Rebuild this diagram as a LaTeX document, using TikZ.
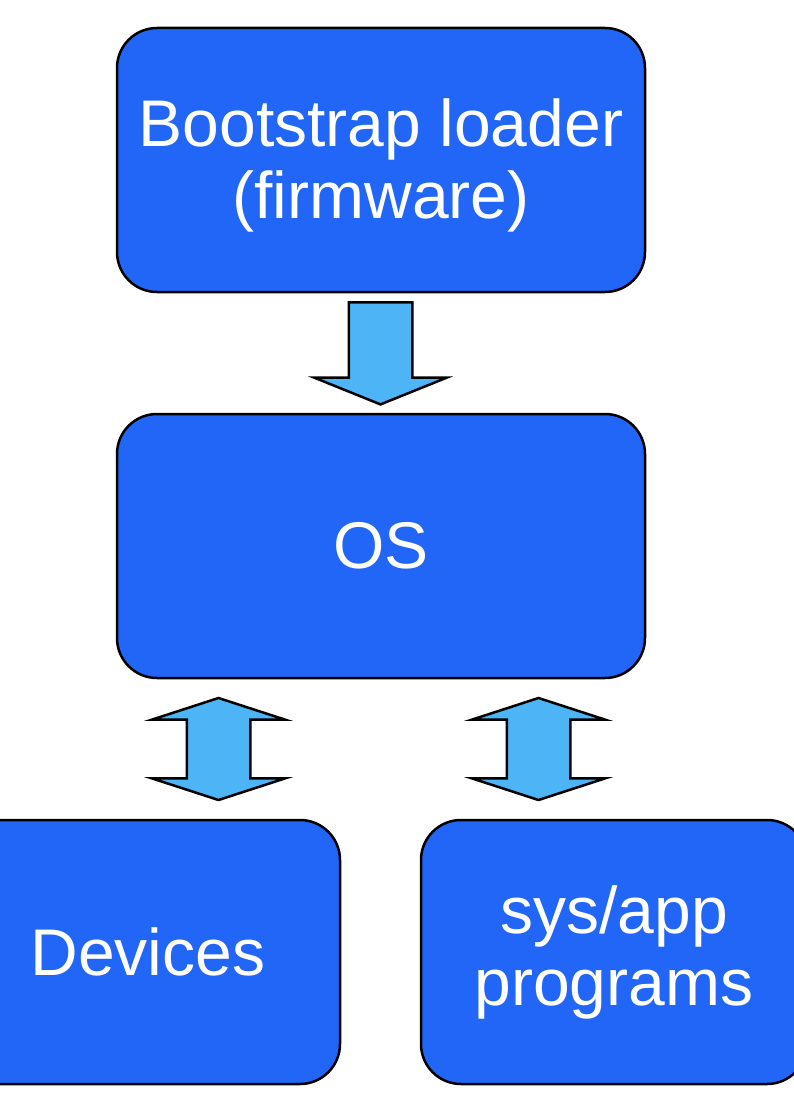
\documentclass[tikz,border=0pt]{standalone}
\usepackage{fontspec}
\setmainfont{Liberation Sans}
\usetikzlibrary{shapes.arrows}
\definecolor{boxblue}{RGB}{33,102,246}
\definecolor{arrowblue}{RGB}{77,181,245}

\begin{document}
\begin{tikzpicture}[x=1pt,y=-1pt,
  blockbox/.style={draw,line width=2.5pt,fill=boxblue,rounded corners=40pt,
    minimum height=264pt,text=white,align=center,
    font=\fontsize{66}{72}\selectfont},
  downarrow/.style={draw,line width=2.5pt,fill=arrowblue,single arrow,
    shape border rotate=270,minimum width=130pt,minimum height=102pt,
    single arrow head extend=34.5pt,single arrow tip angle=136,inner sep=30.5pt},
  bothways/.style={draw,line width=2.5pt,fill=arrowblue,double arrow,
    shape border rotate=90,minimum width=131pt,minimum height=102pt,
    double arrow head extend=35pt,double arrow tip angle=144,inner sep=30.5pt}]
\clip (0,0) rectangle (794,1116);

\node[blockbox,minimum width=528pt] (loader) at (381,160) {\rule{0pt}{58pt}Bootstrap loader\\(firmware)};
\node[blockbox,minimum width=528pt] (os) at (381,546) {OS};
\node[blockbox,minimum width=384pt] (devices) at (148,952) {Devices};
\node[blockbox,minimum width=386pt] (programs) at (614,952) {sys/app\\programs};

\node[downarrow] (boot) at (380.5,347) {};
\node[bothways] (osdev) at (218.5,749) {};
\node[bothways] (osprog) at (538.5,749) {};
\end{tikzpicture}
\end{document}
